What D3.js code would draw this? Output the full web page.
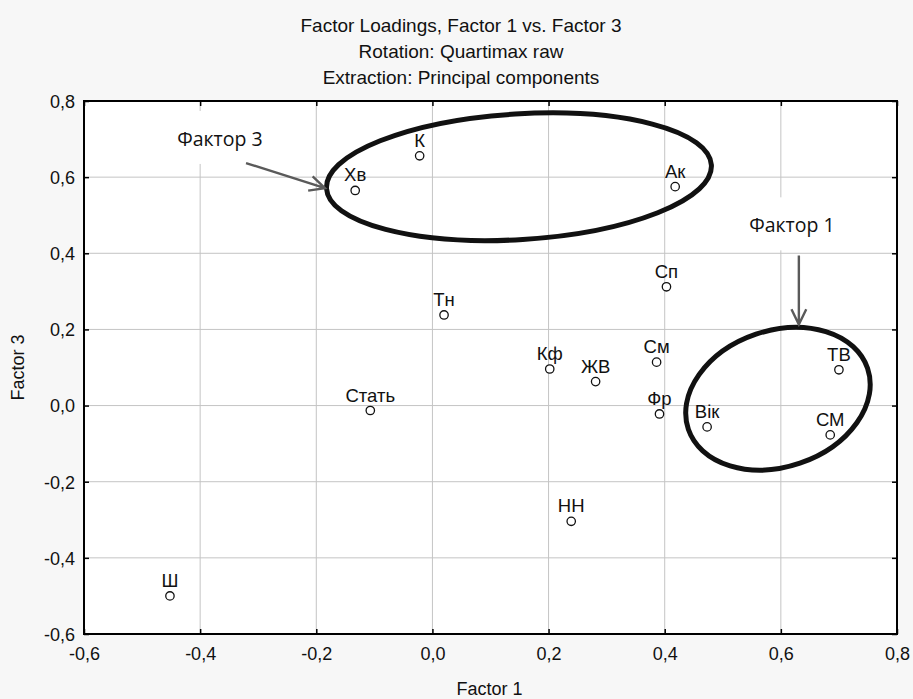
<!DOCTYPE html>
<html>
<head>
<meta charset="utf-8">
<script src="https://cdn.jsdelivr.net/npm/d3@7"></script>
<style>
html,body{margin:0;padding:0;background:#f7f7f7;}
svg{display:block;}
</style>
</head>
<body>
<svg id="chart" width="913" height="699"></svg>
<script>
// ---- data ----
const labels = ["Хв","К","Ак","Сп","Тн","Стать","Кф","ЖВ","См","Фр","Вік","НН","ТВ","СМ","Ш"];
const factor1 = [-0.133,-0.022,0.418,0.403,0.020,-0.107,0.202,0.281,0.386,0.391,0.473,0.239,0.700,0.685,-0.452];
const factor3 = [0.565,0.656,0.575,0.312,0.238,-0.013,0.096,0.063,0.114,-0.022,-0.056,-0.304,0.094,-0.077,-0.500];
const xTicks = [-0.6,-0.4,-0.2,0.0,0.2,0.4,0.6,0.8];
const yTicks = [-0.6,-0.4,-0.2,0.0,0.2,0.4,0.6,0.8];
const titleLines = ["Factor Loadings, Factor 1 vs. Factor 3","Rotation: Quartimax raw","Extraction: Principal components"];
const xTitle = "Factor 1", yTitle = "Factor 3";
// annotation ellipses (data units): cx, cy, rx, ry, rotation(deg)
const ellipses = [
  {cx:0.149, cy:0.601, rx:0.332, ry:0.165, rot:-3.5},
  {cx:0.595, cy:0.018, rx:0.163, ry:0.179, rot:-18.8}
];
const annoText = [
  {text:"Фактор 3", x:-0.366, y:0.682},
  {text:"Фактор 1", x:0.619, y:0.455}
];
const arrows = [
  {x1:-0.321, y1:0.637, x2:-0.185, y2:0.571},
  {x1:0.631, y1:0.394, x2:0.631, y2:0.213}
];

const svg = d3.select("#chart");
const L=84, R=897, T=101, B=634;
const x = d3.scaleLinear().domain([-0.6,0.8]).range([L,R]);
const y = d3.scaleLinear().domain([-0.6,0.8]).range([B,T]);
const fmt = v => d3.format(".1f")(v).replace(".",",").replace("−","-");
const FONT = "'Liberation Sans', Arial, sans-serif";

svg.append("rect").attr("x",L).attr("y",T).attr("width",R-L).attr("height",B-T).attr("fill","#fff");

// gridlines
const g = svg.append("g");
g.selectAll(".gx").data(xTicks.slice(1,-1)).enter().append("line")
  .attr("x1",d=>x(d)).attr("x2",d=>x(d)).attr("y1",T).attr("y2",B)
  .attr("stroke","#c4c4c4").attr("stroke-width",1);
g.selectAll(".gy").data(yTicks.slice(1,-1)).enter().append("line")
  .attr("y1",d=>y(d)).attr("y2",d=>y(d)).attr("x1",L).attr("x2",R)
  .attr("stroke","#c4c4c4").attr("stroke-width",1);

// annotation boxes + text (boxes hide gridlines)
const AF = "'Open Sans','Noto Sans',sans-serif";
annoText.forEach(a=>{
  const grp = svg.append("g");
  const rect = grp.append("rect").attr("fill","#fff");
  const t = grp.append("text").attr("x",x(a.x)).attr("y",y(a.y)).attr("text-anchor","middle")
    .attr("font-family",AF).attr("font-size",19.5).attr("fill","#111").text(a.text);
  const bb = t.node().getBBox();
  rect.attr("x",bb.x-14).attr("y",bb.y-14).attr("width",bb.width+28).attr("height",bb.height+26);
});

// axes with inner ticks
const axB = svg.append("g").attr("transform",`translate(0,${B})`)
  .call(d3.axisBottom(x).tickValues(xTicks).tickFormat(fmt).tickSizeInner(-5).tickSizeOuter(0).tickPadding(13));
const axT = svg.append("g").attr("transform",`translate(0,${T})`)
  .call(d3.axisTop(x).tickValues(xTicks).tickFormat("").tickSizeInner(-5).tickSizeOuter(0));
const axL = svg.append("g").attr("transform",`translate(${L},0)`)
  .call(d3.axisLeft(y).tickValues(yTicks).tickFormat(fmt).tickSizeInner(-5).tickSizeOuter(0).tickPadding(9));
const axR = svg.append("g").attr("transform",`translate(${R},0)`)
  .call(d3.axisRight(y).tickValues(yTicks).tickFormat("").tickSizeInner(-5).tickSizeOuter(0));
[axB,axT,axL,axR].forEach(a=>{
  a.select(".domain").remove();
  a.selectAll("line").attr("stroke","#000").attr("stroke-width",1.5);
  a.selectAll("text").attr("font-family",FONT).attr("font-size",18).attr("fill","#111");
});
axL.selectAll("text").attr("dy","0.35em");

svg.append("rect").attr("x",L).attr("y",T).attr("width",R-L).attr("height",B-T)
  .attr("fill","none").attr("stroke","#000").attr("stroke-width",2);

// titles
svg.selectAll(".title").data(titleLines).enter().append("text")
  .attr("x",461).attr("y",(d,i)=>32+i*26).attr("text-anchor","middle")
  .attr("font-family",FONT).attr("font-size",19).attr("fill","#111").text(d=>d);
svg.append("text").attr("x",(L+R)/2-1).attr("y",695).attr("text-anchor","middle")
  .attr("font-family",FONT).attr("font-size",18).attr("fill","#111").text(xTitle);
svg.append("text").attr("transform",`translate(24,${(T+B)/2}) rotate(-90)`).attr("text-anchor","middle")
  .attr("font-family",FONT).attr("font-size",18).attr("fill","#111").text(yTitle);

// points
const pts = labels.map((l,i)=>({l, a:factor1[i], b:factor3[i]}));
svg.selectAll(".pt").data(pts).enter().append("circle")
  .attr("cx",d=>x(d.a)).attr("cy",d=>y(d.b)).attr("r",4.2)
  .attr("fill","#fff").attr("stroke","#111").attr("stroke-width",1.3);
svg.selectAll(".lb").data(pts).enter().append("text")
  .attr("x",d=>x(d.a)).attr("y",d=>y(d.b)-9).attr("text-anchor","middle")
  .attr("font-family",FONT).attr("font-size",18.5).attr("fill","#111").text(d=>d.l);

// ellipses
ellipses.forEach(e=>{
  const cx=x(e.cx), cy=y(e.cy);
  const rx=x(e.cx+e.rx)-cx, ry=cy-y(e.cy+e.ry);
  svg.append("ellipse").attr("cx",cx).attr("cy",cy).attr("rx",rx).attr("ry",ry)
    .attr("transform",`rotate(${e.rot},${cx},${cy})`)
    .attr("fill","none").attr("stroke","#111").attr("stroke-width",5);
});

// arrows
arrows.forEach(a=>{
  const x1=x(a.x1), y1=y(a.y1), x2=x(a.x2), y2=y(a.y2);
  const ang=Math.atan2(y2-y1,x2-x1), hl=17, hw=0.45;
  const p1=[x2-hl*Math.cos(ang-hw), y2-hl*Math.sin(ang-hw)];
  const p2=[x2-hl*Math.cos(ang+hw), y2-hl*Math.sin(ang+hw)];
  svg.append("path").attr("d",`M${x1},${y1}L${x2},${y2}M${p1[0]},${p1[1]}L${x2},${y2}L${p2[0]},${p2[1]}`)
    .attr("fill","none").attr("stroke","#5a5a5a").attr("stroke-width",2.4);
});
</script>
</body>
</html>
